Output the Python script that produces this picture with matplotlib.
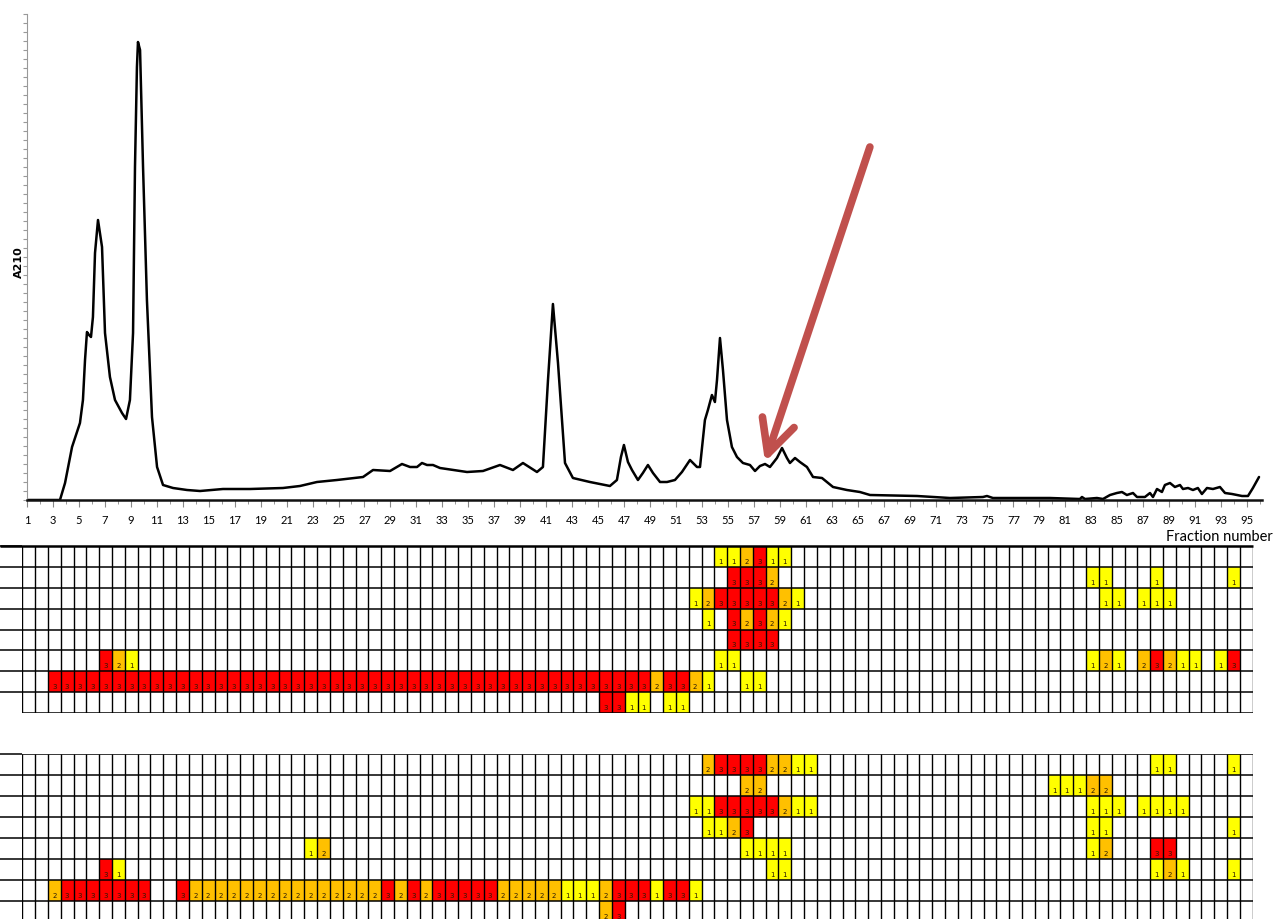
import numpy as np
import matplotlib
matplotlib.use("Agg")
import matplotlib.pyplot as plt
from matplotlib.colors import ListedColormap

plt.rcParams['font.family'] = ['Lato', 'DejaVu Sans']

# chromatogram trace (fraction number, A210 in arbitrary units)
chrom_fraction = [1.00, 3.54, 3.93, 4.47, 5.08, 5.31, 5.47, 5.62, 5.78, 5.93, 6.08, 6.24, 6.47, 6.78,
                  7.01, 7.39, 7.78, 8.32, 8.63, 8.93, 9.17, 9.32, 9.47, 9.55, 9.71, 9.94, 10.24, 10.63,
                  11.02, 11.48, 12.25, 13.33, 14.33, 16.10, 18.18, 20.72, 22.03, 23.34, 24.88, 26.89,
                  27.66, 28.97, 29.89, 30.51, 31.05, 31.43, 31.82, 32.28, 32.82, 34.90, 36.13, 37.44,
                  38.44, 39.21, 40.29, 40.75, 41.14, 41.52, 41.91, 42.45, 43.06, 44.37, 45.91, 46.45,
                  46.76, 46.99, 47.30, 47.61, 48.07, 48.45, 48.84, 49.23, 49.77, 50.31, 50.92, 51.46,
                  52.08, 52.62, 52.85, 53.23, 53.46, 53.77, 54.00, 54.16, 54.39, 54.62, 54.93, 55.31,
                  55.70, 56.16, 56.70, 57.09, 57.47, 57.86, 58.24, 58.78, 59.17, 59.55, 59.78, 60.17,
                  60.55, 61.09, 61.56, 62.25, 63.10, 64.17, 65.17, 65.95, 69.57, 72.11, 74.65, 74.96,
                  75.42, 79.81, 82.12, 82.28, 82.51, 83.43, 83.90, 84.44, 84.97, 85.36, 85.74, 86.21,
                  86.52, 87.13, 87.52, 87.75, 88.06, 88.44, 88.67, 89.06, 89.44, 89.83, 90.06, 90.45,
                  90.83, 91.21, 91.52, 91.91, 92.37, 92.91, 93.30, 93.84, 94.61, 95.07, 95.45, 95.92]
chrom_a210 = [0.00, 0.00, 0.17, 0.53, 0.77, 1.00, 1.40, 1.68, 1.65, 1.63, 1.83, 2.47, 2.80, 2.53,
              1.67, 1.23, 1.00, 0.87, 0.81, 1.00, 1.67, 3.33, 4.33, 4.58, 4.50, 3.33, 2.00, 0.83,
              0.33, 0.15, 0.12, 0.10, 0.09, 0.11, 0.11, 0.12, 0.14, 0.18, 0.20, 0.23,
              0.30, 0.29, 0.36, 0.33, 0.33, 0.37, 0.35, 0.35, 0.32, 0.28, 0.29, 0.35,
              0.30, 0.37, 0.28, 0.33, 1.20, 1.96, 1.37, 0.37, 0.22, 0.18, 0.14, 0.20,
              0.43, 0.55, 0.38, 0.30, 0.20, 0.27, 0.35, 0.27, 0.18, 0.18, 0.20, 0.28,
              0.40, 0.33, 0.33, 0.80, 0.90, 1.05, 0.98, 1.20, 1.62, 1.30, 0.80, 0.53,
              0.43, 0.37, 0.35, 0.29, 0.34, 0.36, 0.33, 0.42, 0.52, 0.42, 0.37, 0.42,
              0.38, 0.33, 0.23, 0.22, 0.13, 0.10, 0.08, 0.05, 0.04, 0.02, 0.03, 0.04,
              0.02, 0.02, 0.01, 0.03, 0.01, 0.02, 0.01, 0.05, 0.07, 0.08, 0.05, 0.07,
              0.03, 0.03, 0.07, 0.03, 0.11, 0.08, 0.15, 0.17, 0.13, 0.15, 0.11, 0.12,
              0.10, 0.12, 0.06, 0.12, 0.11, 0.13, 0.07, 0.06, 0.04, 0.04, 0.12, 0.23]

# arrow: from (fraction, A210) to (fraction, A210)
arrow_tail = (65.94, 3.53)
arrow_tip = (57.86, 0.38)

n_fractions = 96
fraction_ticks = list(range(1, 96, 2))

# score grids: per row, runs of (first fraction, scores)
grid_top = [
    [(55, "112311")],
    [(56, "3332"), (84, "11"), (89, "1"), (95, "1")],
    [(53, "123333321"), (85, "11"), (88, "111")],
    [(54, "1"), (56, "32321")],
    [(56, "3333")],
    [(7, "321"), (55, "11"), (84, "121"), (88, "23211"), (94, "13")],
    [(3, "3" * 47), (50, "23321"), (57, "11")],
    [(46, "3311"), (51, "11")],
]
grid_bottom = [
    [(54, "233332211"), (89, "11"), (95, "1")],
    [(57, "22"), (81, "11122")],
    [(53, "1133333211"), (84, "111"), (88, "1111")],
    [(54, "1123"), (84, "11"), (95, "1")],
    [(23, "12"), (57, "1111"), (84, "12"), (89, "33")],
    [(7, "31"), (59, "11"), (89, "121"), (95, "1")],
    [(3, "23333333"), (13, "3" + "2" * 15 + "3232" + "33333" + "22222" + "111" + "2" + "333" + "1" + "33" + "1")],
    [(46, "23")],
]
score_colors = ['white', '#FFFF00', '#FFC000', '#FF0000']

W, H = 1276, 919


def px_rect(x0, y0, x1, y1):
    return [x0 / W, 1 - y1 / H, (x1 - x0) / W, (y1 - y0) / H]


def to_matrix(rows):
    m = np.zeros((len(rows), n_fractions), dtype=int)
    for r, runs in enumerate(rows):
        for start, codes in runs:
            for i, c in enumerate(codes):
                m[r, start - 1 + i] = int(c)
    return m


def draw_grid(ax, rows, thick_top=False):
    m = to_matrix(rows)
    nrow = m.shape[0]
    ax.pcolormesh(np.arange(n_fractions + 1), np.arange(nrow + 1), m,
                  cmap=ListedColormap(score_colors), vmin=-0.5, vmax=3.5)
    for r in range(nrow):
        for k in range(n_fractions):
            if m[r, k]:
                ax.text(k + 0.5, r + 0.76, str(m[r, k]), ha='center', va='center',
                        fontsize=5, color='#2a1a05', family='DejaVu Sans')
    ax.vlines(np.arange(n_fractions + 1), 0, nrow, color='black', lw=1.0)
    ax.hlines(np.arange(nrow + 1), 0, n_fractions, color='black', lw=1.1)
    stub = 22.3 / 12.82
    ax.hlines(np.arange(nrow), -stub, 0, color='black', lw=1.1, clip_on=False)
    if thick_top:
        ax.hlines(0, -stub, n_fractions, color='black', lw=1.8, clip_on=False)
    ax.set_xlim(0, n_fractions)
    ax.set_ylim(nrow, 0)
    ax.axis('off')


fig = plt.figure(figsize=(W / 100, H / 100), dpi=100)

# chromatogram
ax = fig.add_axes(px_rect(27, 14, 1262, 500))
ax.plot(chrom_fraction, chrom_a210, color='black', lw=1.8,
        solid_joinstyle='round', solid_capstyle='round')
ax.set_xlim(1, 96.15)
ax.set_ylim(0, 4.86)
ax.set_xticks(fraction_ticks)
ax.set_xticks(range(1, 97), minor=True)
ax.set_yticks(np.arange(0, 4.87, 0.09))
ax.set_yticklabels([])
ax.tick_params(axis='x', which='major', length=5, color='#888888', labelsize=8, pad=6)
ax.tick_params(axis='x', which='minor', length=3, color='#888888')
ax.tick_params(axis='y', length=3, color='#999999')
for s in ['top', 'right']:
    ax.spines[s].set_visible(False)
ax.spines['left'].set_color('#999999')
ax.spines['left'].set_linewidth(0.8)
ax.spines['bottom'].set_linewidth(1.8)
ax.spines['bottom'].set_color('#111111')

fig.text(18.5 / W, 1 - 262 / H, 'A210', rotation=90, ha='center', va='center',
         fontsize=8, fontweight='bold', family='DejaVu Sans')

ax.annotate('', xy=arrow_tip, xytext=arrow_tail,
            arrowprops=dict(arrowstyle='->,head_length=1.2,head_width=0.6', mutation_scale=20,
                            lw=5.5, color='#C0504D', shrinkA=0, shrinkB=0))

fig.text(1273 / W, 1 - 537 / H, 'Fraction number', ha='right', va='center', fontsize=10.5)

# score grids
ax1 = fig.add_axes(px_rect(22.3, 546, 1252.7, 713))
draw_grid(ax1, grid_top, thick_top=True)
ax2 = fig.add_axes(px_rect(22.3, 754.3, 1252.7, 922.3))
draw_grid(ax2, grid_bottom)

fig.savefig('out.png', dpi=100)
